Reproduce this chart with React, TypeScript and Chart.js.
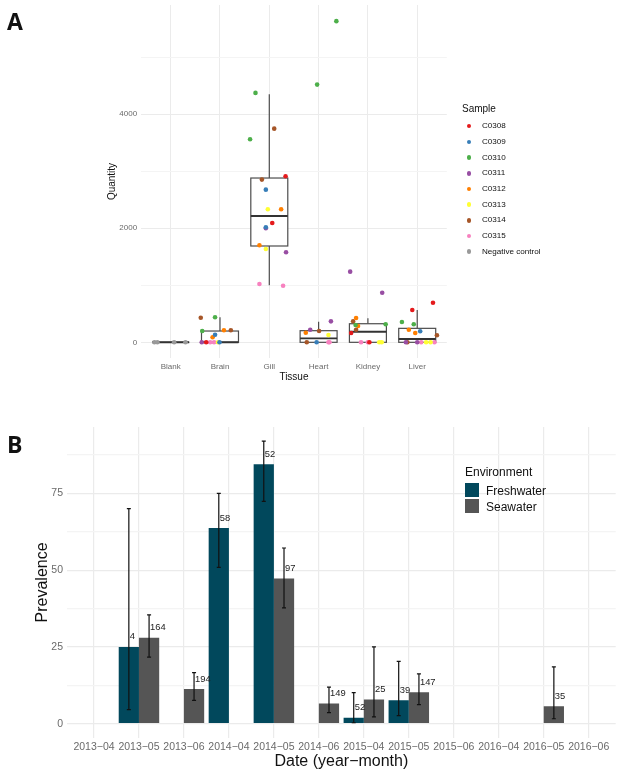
import React, { useEffect, useRef } from 'react';
import { Chart, registerables } from 'chart.js';

Chart.register(...registerables);

// Panel A: tissue quantities
const tissues = ['Blank', 'Brain', 'Gill', 'Heart', 'Kidney', 'Liver'];
const sampleNames = ['C0308', 'C0309', 'C0310', 'C0311', 'C0312', 'C0313', 'C0314', 'C0315', 'Negative control'];
const sampleColors = ['#E41A1C', '#377EB8', '#4DAF4A', '#984EA3', '#FF7F00', '#FFFF33', '#A65628', '#F781BF', '#999999'];

// [jittered tissue position, quantity]
const c0308 = [[2.33, 2912], [2.06, 2093], [0.72, 0], [3.66, 163], [4.03, 0], [5.32, 695], [4.9, 567]];
const c0309 = [[1.93, 2677], [1.93, 2018], [0.9, 133], [0.99, 0], [2.96, 0], [5.06, 193]];
const c0310 = [[3.36, 5632], [2.97, 4519], [1.72, 4374], [1.61, 3561], [0.9, 439], [0.64, 198], [3.75, 304], [4.36, 316], [4.69, 356], [4.93, 316]];
const c0311 = [[1.93, 2000], [2.34, 1579], [0.63, 0], [3.25, 368], [2.83, 221], [3.64, 1239], [4.29, 870], [4.77, 0], [5.0, 0]];
const c0312 = [[2.24, 2333], [1.8, 1702], [1.08, 211], [0.85, 88], [2.74, 168], [3.76, 426], [3.8, 286], [4.83, 221], [4.96, 163]];
const c0313 = [[1.97, 2333], [1.93, 1637], [0.96, 0], [3.2, 128], [4.23, 0], [4.28, 0], [5.18, 0], [5.27, 0]];
const c0314 = [[2.1, 3747], [1.85, 2853], [0.61, 432], [1.22, 211], [3.01, 198], [2.76, 0], [3.7, 368], [3.76, 221], [4.8, 0], [5.4, 123]];
const c0315 = [[1.8, 1023], [2.28, 993], [0.8, 0], [0.88, 0], [3.2, 0], [3.22, 0], [3.86, 0], [4.0, 0], [5.08, 0], [5.35, 0]];
const negative = [[-0.33, 0], [-0.27, 0], [0.07, 0], [0.3, 0]];
const samplePoints = [c0308, c0309, c0310, c0311, c0312, c0313, c0314, c0315, negative];

const boxQ1 = [0, 0, 1689, 0, 0, 0];
const boxMedian = [0, 0, 2216, 70, 186, 58];
const boxQ3 = [0, 198, 2881, 204, 326, 245];
const whiskerLow = [0, 0, 1000, 0, 0, 0];
const whiskerHigh = [0, 439, 4352, 361, 421, 567];

// Panel B: prevalence by date
const dates = ['2013-04', '2013-05', '2013-06', '2014-04', '2014-05', '2014-06', '2015-04', '2015-05', '2015-06', '2016-04', '2016-05', '2016-06'];
const freshValues = [null, 25, null, 63.7, 84.5, null, 1.9, 7.6, null, null, null, null];
const freshLow = [null, 4.6, null, 50.9, 72.4, null, 0.3, 2.6, null, null, null, null];
const freshHigh = [null, 70, null, 75, 92, null, 10.1, 20.3, null, null, null, null];
const freshN = [null, 4, null, 58, 52, null, 52, 39, null, null, null, null];
const seaValues = [null, 28, 11.3, null, 47.3, 6.6, 7.9, 10.2, null, null, 5.7, null];
const seaLow = [null, 21.7, 7.6, null, 37.7, 3.6, 2.2, 6.2, null, null, 1.6, null];
const seaHigh = [null, 35.4, 16.6, null, 57.2, 11.9, 25, 16.2, null, null, 18.5, null];
const seaN = [null, 164, 194, null, 97, 149, 25, 147, null, null, 35, null];

const FRESH_COLOR = '#01485C';
const SEA_COLOR = '#555555';
const FONT = '"Liberation Sans", Arial, sans-serif';
const TICK_COLOR = '#6a6a6a';

// boxes sit under the sample points, ggplot style
const boxPlugin = {
  id: 'tissueBoxes',
  beforeDatasetsDraw(chart: any) {
    const { ctx, scales } = chart;
    const { x, y } = scales;
    ctx.save();
    tissues.forEach((_, i) => {
      const left = x.getPixelForValue(i - 0.375);
      const right = x.getPixelForValue(i + 0.375);
      const mid = x.getPixelForValue(i);
      const q1 = y.getPixelForValue(boxQ1[i]);
      const q3 = y.getPixelForValue(boxQ3[i]);
      const med = y.getPixelForValue(boxMedian[i]);
      ctx.strokeStyle = '#4d4d4d';
      ctx.lineWidth = 1.2;
      ctx.beginPath();
      ctx.moveTo(mid, y.getPixelForValue(whiskerHigh[i]));
      ctx.lineTo(mid, q3);
      ctx.moveTo(mid, q1);
      ctx.lineTo(mid, y.getPixelForValue(whiskerLow[i]));
      ctx.stroke();
      ctx.fillStyle = '#fff';
      ctx.fillRect(left, q3, right - left, q1 - q3);
      ctx.strokeRect(left, q3, right - left, q1 - q3);
      ctx.lineWidth = 1.9;
      ctx.strokeStyle = '#333';
      ctx.beginPath();
      ctx.moveTo(left, med);
      ctx.lineTo(right, med);
      ctx.stroke();
    });
    ctx.restore();
  },
};

// error bars and the n labels beside them
const errorBarPlugin = {
  id: 'prevalenceErrors',
  afterDatasetsDraw(chart: any) {
    const { ctx, scales } = chart;
    const y = scales.y;
    const groups = [
      { low: freshLow, high: freshHigh, n: freshN, values: freshValues },
      { low: seaLow, high: seaHigh, n: seaN, values: seaValues },
    ];
    ctx.save();
    groups.forEach((group, d) => {
      const meta = chart.getDatasetMeta(d);
      group.values.forEach((value, i) => {
        if (value === null) return;
        const cx = meta.data[i].x;
        const top = y.getPixelForValue(group.high[i]);
        const bottom = y.getPixelForValue(group.low[i]);
        ctx.strokeStyle = '#111';
        ctx.lineWidth = 1.2;
        ctx.beginPath();
        ctx.moveTo(cx, top);
        ctx.lineTo(cx, bottom);
        ctx.moveTo(cx - 2, top);
        ctx.lineTo(cx + 2, top);
        ctx.moveTo(cx - 2, bottom);
        ctx.lineTo(cx + 2, bottom);
        ctx.stroke();
        ctx.fillStyle = '#222';
        ctx.font = `9.4px ${FONT}`;
        ctx.textAlign = 'left';
        ctx.textBaseline = 'middle';
        ctx.fillText(String(group.n[i]), cx + 1, y.getPixelForValue(value) - 10);
      });
    });
    ctx.restore();
  },
};

const fixedTicks = (values: number[]) => (scale: any) => {
  scale.ticks = values.map((value) => ({ value }));
};

// pin the axis box and stop tick labels from pushing the plot area inwards
const fixedBox = (side: 'width' | 'height', size: number) => (scale: any) => {
  scale[side] = size;
  scale.paddingTop = 0;
  scale.paddingBottom = 0;
  scale.paddingLeft = 0;
  scale.paddingRight = 0;
};

const TissueChart: React.FC = () => {
  const ref = useRef<HTMLCanvasElement>(null);

  useEffect(() => {
    if (!ref.current) return;
    const chart = new Chart(ref.current, {
      type: 'scatter',
      data: {
        datasets: samplePoints.map((points, i) => ({
          label: sampleNames[i],
          data: points.map(([x, y]) => ({ x, y })),
          backgroundColor: sampleColors[i],
          borderWidth: 0,
          pointRadius: 2.3,
        })),
      },
      options: {
        animation: false,
        responsive: false,
        layout: { padding: { left: 100, right: 170.2, top: 5, bottom: 0 } },
        plugins: { legend: { display: false }, tooltip: { enabled: false } },
        scales: {
          x: {
            type: 'linear',
            min: -0.6,
            max: 5.6,
            afterBuildTicks: fixedTicks(tissues.map((_, i) => i)),
            afterFit: fixedBox('height', 27),
            border: { display: false },
            grid: { color: '#ebebeb', lineWidth: 1, drawTicks: false },
            ticks: {
              autoSkip: false,
              maxRotation: 0,
              padding: 4,
              color: TICK_COLOR,
              font: { family: FONT, size: 8 },
              callback: (value: any) => tissues[value],
            },
            title: { display: true, text: 'Tissue', color: '#111', font: { family: FONT, size: 10 }, padding: { top: 2, bottom: 2 } },
          },
          y: {
            min: -275,
            max: 5915,
            afterBuildTicks: fixedTicks([0, 1000, 2000, 3000, 4000, 5000]),
            afterFit: fixedBox('width', 41.1),
            border: { display: false },
            grid: {
              color: (c: any) => (c.tick.value % 2000 === 0 ? '#ebebeb' : '#f4f4f4'),
              lineWidth: 1,
              drawTicks: false,
            },
            ticks: {
              padding: 4,
              color: TICK_COLOR,
              font: { family: FONT, size: 8 },
              callback: (value: any) => (value % 2000 === 0 ? String(value) : ''),
            },
            title: { display: true, text: 'Quantity', color: '#111', font: { family: FONT, size: 10 }, padding: { top: 6, bottom: 2 } },
          },
        },
      },
      plugins: [boxPlugin],
    } as any);
    return () => chart.destroy();
  }, []);

  return <canvas ref={ref} width={617} height={385} style={{ position: 'absolute', left: 0, top: 0, display: 'block' }} />;
};

const PrevalenceChart: React.FC = () => {
  const ref = useRef<HTMLCanvasElement>(null);

  useEffect(() => {
    if (!ref.current) return;
    const chart = new Chart(ref.current, {
      type: 'bar',
      data: {
        datasets: [
          {
            label: 'Freshwater',
            data: freshValues.map((y, x) => ({ x, y })),
            backgroundColor: FRESH_COLOR,
            categoryPercentage: 0.9,
            barPercentage: 1,
          },
          {
            label: 'Seawater',
            data: seaValues.map((y, x) => ({ x, y })),
            backgroundColor: SEA_COLOR,
            categoryPercentage: 0.9,
            barPercentage: 1,
          },
        ],
      },
      options: {
        animation: false,
        responsive: false,
        layout: { padding: { left: 26, right: 1.3, top: 7, bottom: 0 } },
        plugins: { legend: { display: false }, tooltip: { enabled: false } },
        scales: {
          x: {
            type: 'linear',
            offset: false,
            min: -0.6,
            max: 11.6,
            afterBuildTicks: fixedTicks(dates.map((_, i) => i)),
            afterFit: fixedBox('height', 36.2),
            border: { display: false },
            grid: { offset: false, color: '#ebebeb', lineWidth: 1.2, drawTicks: false },
            ticks: {
              autoSkip: false,
              maxRotation: 0,
              padding: 3,
              color: TICK_COLOR,
              font: { family: FONT, size: 10.5 },
              callback: (value: any) => (dates[value] || '').replace('-', '\u2212'),
            },
            title: { display: true, text: 'Date (year\u2212month)', color: '#111', font: { family: FONT, size: 16 }, padding: { top: 2, bottom: 2.4 } },
          },
          y: {
            min: -4.6,
            max: 96.6,
            afterBuildTicks: fixedTicks([0, 12.5, 25, 37.5, 50, 62.5, 75, 87.5]),
            afterFit: fixedBox('width', 41),
            border: { display: false },
            grid: {
              color: (c: any) => (c.tick.value % 25 === 0 ? '#ebebeb' : '#f4f4f4'),
              lineWidth: 1.2,
              drawTicks: false,
            },
            ticks: {
              padding: 4,
              color: TICK_COLOR,
              font: { family: FONT, size: 10.5 },
              callback: (value: any) => (value % 25 === 0 ? String(value) : ''),
            },
            title: { display: true, text: 'Prevalence', color: '#111', font: { family: FONT, size: 16 }, padding: { top: 7, bottom: 2 } },
          },
        },
      },
      plugins: [errorBarPlugin],
    } as any);
    return () => chart.destroy();
  }, []);

  return <canvas ref={ref} width={617} height={354} style={{ position: 'absolute', left: 0, top: 420, display: 'block' }} />;
};

const abs = (left: number, top: number, extra: React.CSSProperties = {}): React.CSSProperties => ({
  position: 'absolute',
  left,
  top,
  lineHeight: 1,
  whiteSpace: 'nowrap',
  color: '#111',
  ...extra,
});

export default function App() {
  return (
    <div style={{ position: 'absolute', left: 0, top: 0, width: 617, height: 774, background: '#fff', overflow: 'hidden', fontFamily: FONT }}>
      <TissueChart />
      <PrevalenceChart />
      <div style={abs(7, 10, { fontFamily: '"Open Sans", sans-serif', fontWeight: 700, fontSize: 23 })}>A</div>
      <div style={abs(7, 433, { fontFamily: '"Open Sans", sans-serif', fontWeight: 700, fontSize: 23 })}>B</div>

      <div style={abs(462, 104, { fontSize: 10 })}>Sample</div>
      {sampleNames.map((name, i) => (
        <React.Fragment key={name}>
          <div style={abs(467.1, 124.1 + i * 15.67, { width: 4.4, height: 4.4, borderRadius: '50%', background: sampleColors[i] })} />
          <div style={abs(482, 122.2 + i * 15.67, { fontSize: 8.1 })}>{name}</div>
        </React.Fragment>
      ))}

      <div style={abs(465, 465.7, { fontSize: 12 })}>Environment</div>
      <div style={abs(465.3, 483.3, { width: 14, height: 14, background: FRESH_COLOR })} />
      <div style={abs(465.3, 499, { width: 14, height: 14, background: SEA_COLOR })} />
      <div style={abs(486, 485, { fontSize: 12 })}>Freshwater</div>
      <div style={abs(486, 500.7, { fontSize: 12 })}>Seawater</div>
    </div>
  );
}
